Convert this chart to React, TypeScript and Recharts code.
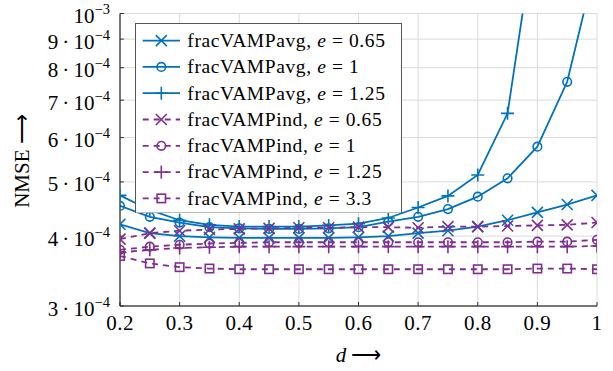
import React from "react";
import { LineChart, Line, XAxis, YAxis, CartesianGrid, Legend } from "recharts";

const dValues = [0.2, 0.25, 0.3, 0.35, 0.4, 0.45, 0.5, 0.55, 0.6, 0.65, 0.7, 0.75, 0.8, 0.85, 0.9, 0.95, 1.0];
const avg065 = [4.2, 4.05, 4.0, 3.98, 3.97, 3.97, 3.97, 3.97, 3.98, 4.0, 4.05, 4.09, 4.16, 4.27, 4.41, 4.555, 4.73];
const avg1 = [4.53, 4.33, 4.23, 4.15, 4.13, 4.12, 4.12, 4.13, 4.15, 4.245, 4.33, 4.47, 4.705, 5.075, 5.78, 7.55, 12.56];
const avg125 = [4.73, 4.455, 4.27, 4.19, 4.16, 4.16, 4.16, 4.18, 4.21, 4.31, 4.5, 4.72, 5.145, 6.63, 15.0, null, null];
const ind065 = [3.95, 4.05, 4.09, 4.11, 4.12, 4.13, 4.14, 4.14, 4.15, 4.15, 4.14, 4.16, 4.16, 4.17, 4.18, 4.19, 4.23];
const ind1 = [3.78, 3.83, 3.86, 3.88, 3.89, 3.9, 3.9, 3.9, 3.9, 3.9, 3.9, 3.9, 3.9, 3.9, 3.91, 3.91, 3.94];
const ind125 = [3.74, 3.78, 3.81, 3.82, 3.83, 3.83, 3.83, 3.83, 3.83, 3.83, 3.83, 3.83, 3.83, 3.83, 3.83, 3.83, 3.84];
const ind33 = [3.685, 3.575, 3.52, 3.5, 3.49, 3.49, 3.49, 3.49, 3.49, 3.49, 3.49, 3.49, 3.49, 3.49, 3.5, 3.5, 3.49];

const xTicks = [0.2, 0.3, 0.4, 0.5, 0.6, 0.7, 0.8, 0.9, 1];
const yTicks = [3e-4, 4e-4, 5e-4, 6e-4, 7e-4, 8e-4, 9e-4, 1e-3];

const BLUE = "#0072BD";
const PURPLE = "#7E2F8E";
const FONT = "Liberation Serif, Times New Roman, serif";

type Shape = "x" | "o" | "+" | "s";
const series: { key: string; values: (number | null)[]; color: string; shape: Shape; dashed: boolean; name: string; e: string }[] = [
  { key: "avg065", values: avg065, color: BLUE, shape: "x", dashed: false, name: "fracVAMPavg", e: "0.65" },
  { key: "avg1", values: avg1, color: BLUE, shape: "o", dashed: false, name: "fracVAMPavg", e: "1" },
  { key: "avg125", values: avg125, color: BLUE, shape: "+", dashed: false, name: "fracVAMPavg", e: "1.25" },
  { key: "ind065", values: ind065, color: PURPLE, shape: "x", dashed: true, name: "fracVAMPind", e: "0.65" },
  { key: "ind1", values: ind1, color: PURPLE, shape: "o", dashed: true, name: "fracVAMPind", e: "1" },
  { key: "ind125", values: ind125, color: PURPLE, shape: "+", dashed: true, name: "fracVAMPind", e: "1.25" },
  { key: "ind33", values: ind33, color: PURPLE, shape: "s", dashed: true, name: "fracVAMPind", e: "3.3" },
];

const data = dValues.map((d, i) => {
  const row: Record<string, number | null> = { d };
  series.forEach((s) => {
    const v = s.values[i];
    row[s.key] = v == null ? null : v * 1e-4;
  });
  return row;
});

const DASH = "6 5";

function MarkerShape({ shape, cx, cy, color }: { shape: Shape; cx: number; cy: number; color: string }) {
  const sw = 1.6;
  if (shape === "x") {
    const h = 5.5;
    return (
      <g stroke={color} strokeWidth={sw} fill="none">
        <line x1={cx - h} y1={cy - h} x2={cx + h} y2={cy + h} />
        <line x1={cx - h} y1={cy + h} x2={cx + h} y2={cy - h} />
      </g>
    );
  }
  if (shape === "+") {
    const h = 6.5;
    return (
      <g stroke={color} strokeWidth={sw} fill="none">
        <line x1={cx - h} y1={cy} x2={cx + h} y2={cy} />
        <line x1={cx} y1={cy - h} x2={cx} y2={cy + h} />
      </g>
    );
  }
  if (shape === "o") {
    return <circle cx={cx} cy={cy} r={4.3} stroke={color} strokeWidth={sw} fill="none" />;
  }
  return <rect x={cx - 4.2} y={cy - 4.2} width={8.4} height={8.4} stroke={color} strokeWidth={sw} fill="none" />;
}

const makeDot = (shape: Shape, color: string) => (props: any) => {
  const { cx, cy, index } = props;
  if (cx == null || cy == null || !isFinite(cx) || !isFinite(cy) || props.value == null) return <g key={`d-${index}`} />;
  return (
    <g key={`d-${index}`}>
      <MarkerShape shape={shape} cx={cx} cy={cy} color={color} />
    </g>
  );
};

const textStyle = { fontFamily: FONT };

const YTick = (props: any) => {
  const { x, y, payload } = props;
  const m = Math.round(payload.value * 1e4);
  const base = y + 9.5;
  if (m === 10) {
    return (
      <text x={x} y={base} textAnchor="end" style={textStyle} fontSize={21} fill="#000">
        <tspan>10</tspan>
        <tspan dy={-9} fontSize={14.5}>−3</tspan>
      </text>
    );
  }
  return (
    <text x={x} y={base} textAnchor="end" style={textStyle} fontSize={21} fill="#000">
      <tspan>{`${m}\u2009·\u200910`}</tspan>
      <tspan dy={-9} fontSize={14.5}>−4</tspan>
    </text>
  );
};

const XTick = (props: any) => {
  const { x, y, payload } = props;
  const v = payload.value;
  const label = v === 1 ? "1" : v.toFixed(1);
  return (
    <text x={x} y={y + 14} textAnchor="middle" style={textStyle} fontSize={21} letterSpacing={0.5} fill="#000">
      {label}
    </text>
  );
};

const Empty = () => <g />;

const LegendBox = () => {
  const W = 267;
  const H = 190.6;
  const rowH = 26.3;
  const y0 = 17.6;
  return (
    <svg width={W} height={H} style={{ display: "block" }}>
      <rect x={0.5} y={0.5} width={W - 1} height={H - 1} fill="#fff" stroke="#555" strokeWidth={1} />
      {series.map((s, i) => {
        const cy = y0 + i * rowH;
        return (
          <g key={s.key}>
            <line x1={7.7} y1={cy} x2={45} y2={cy} stroke={s.color} strokeWidth={1.8} strokeDasharray={s.dashed ? DASH : undefined} />
            <MarkerShape shape={s.shape} cx={26.3} cy={cy} color={s.color} />
            <text x={52.3} y={cy + 6.3} style={textStyle} fontSize={19.5} fill="#000" letterSpacing={0.6}>
              <tspan>{`${s.name}, `}</tspan>
              <tspan fontStyle="italic">e</tspan>
              <tspan>{` = ${s.e}`}</tspan>
            </text>
          </g>
        );
      })}
    </svg>
  );
};

export default function App() {
  return (
    <div style={{ position: "absolute", left: 0, top: 0, width: 613, height: 371, background: "#fff" }}>
      <LineChart width={613} height={371} data={data} margin={{ top: 13.5, right: 16, bottom: 0, left: 0 }}>
        <CartesianGrid stroke="#dadada" strokeWidth={1} />
        <XAxis
          dataKey="d"
          type="number"
          domain={[0.2, 1]}
          ticks={xTicks}
          allowDataOverflow
          height={65}
          tickSize={-4}
          tickMargin={14}
          tick={<XTick />}
          axisLine={{ stroke: "#000", strokeWidth: 1 }}
          tickLine={{ stroke: "#333", strokeWidth: 1 }}
          label={{
            content: (p: any) => {
              const vb = p.viewBox || {};
              return (
                <text x={vb.x + vb.width / 2} y={362} textAnchor="middle" style={textStyle} fontSize={21} fill="#000">
                  <tspan fontStyle="italic">d</tspan>
                  <tspan> ⟶</tspan>
                </text>
              );
            },
          }}
        />
        <XAxis
          xAxisId="top"
          orientation="top"
          type="number"
          domain={[0.2, 1]}
          ticks={xTicks}
          allowDataOverflow
          height={0}
          tickSize={-4}
          tick={<Empty />}
          axisLine={{ stroke: "#000", strokeWidth: 1 }}
          tickLine={{ stroke: "#333", strokeWidth: 1 }}
        />
        <YAxis
          type="number"
          scale="log"
          domain={[3e-4, 1e-3]}
          ticks={yTicks}
          allowDataOverflow
          width={120}
          tickSize={-4}
          tickMargin={14}
          tick={<YTick />}
          axisLine={{ stroke: "#000", strokeWidth: 1 }}
          tickLine={{ stroke: "#333", strokeWidth: 1 }}
          label={{
            content: () => (
              <text
                x={0}
                y={0}
                transform="translate(29,161) rotate(-90)"
                textAnchor="middle"
                style={textStyle}
                fontSize={21}
                fill="#000"
              >
                NMSE ⟶
              </text>
            ),
          }}
        />
        <YAxis
          yAxisId="right"
          orientation="right"
          type="number"
          scale="log"
          domain={[3e-4, 1e-3]}
          ticks={yTicks}
          allowDataOverflow
          width={0}
          tickSize={-4}
          tick={<Empty />}
          axisLine={{ stroke: "#000", strokeWidth: 1 }}
          tickLine={{ stroke: "#333", strokeWidth: 1 }}
        />
        {series.map((s) => (
          <Line
            key={s.key}
            dataKey={s.key}
            type="linear"
            stroke={s.color}
            strokeWidth={1.8}
            strokeDasharray={s.dashed ? DASH : undefined}
            dot={makeDot(s.shape, s.color)}
            activeDot={false}
            isAnimationActive={false}
            connectNulls={false}
          />
        ))}
        <Legend
          layout="vertical"
          align="center"
          verticalAlign="middle"
          content={() => <LegendBox />}
          wrapperStyle={{ position: "absolute", left: 135, top: 22.7, width: 267, height: 191 }}
        />
      </LineChart>
    </div>
  );
}
